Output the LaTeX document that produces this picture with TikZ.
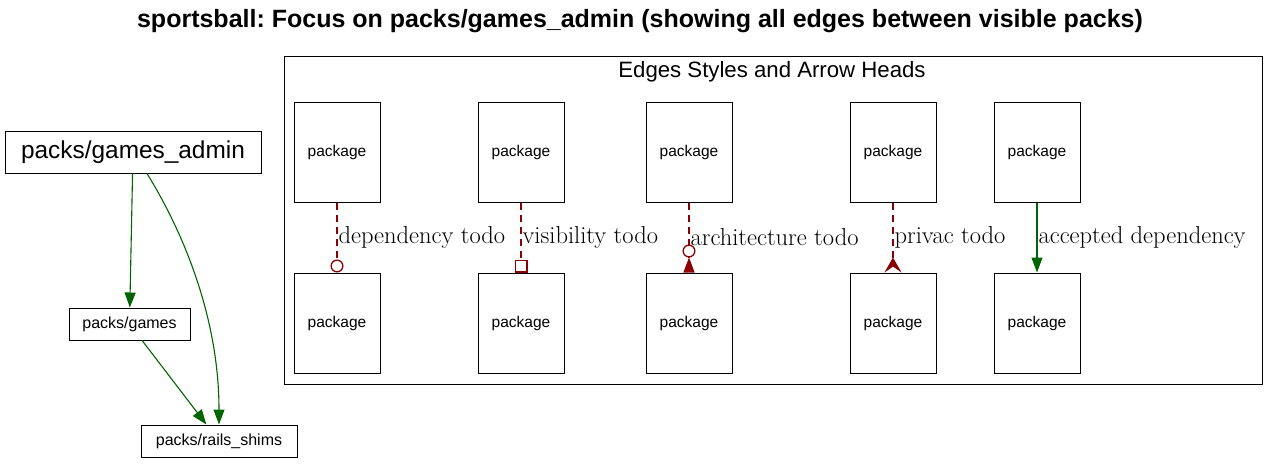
\documentclass[tikz,border=0pt]{standalone}
\usepackage{fontspec}
\setsansfont{Liberation Sans}
\usepackage{tikz}
\usetikzlibrary{calc, arrows.meta}

\definecolor{okgreen}{RGB}{0,100,0}
\definecolor{todored}{RGB}{139,0,0}
\frenchspacing

\begin{document}
\begin{tikzpicture}[x=1pt, y=-1pt,
    pack/.style={draw, line width=1pt, inner sep=0pt, font=\sffamily\fontsize{16}{19}\selectfont},
    legendbox/.style={pack, minimum width=86pt, minimum height=100pt, font=\sffamily\fontsize{15.5}{18}\selectfont},
    ok/.style={color=okgreen, line width=1.1pt, -{Triangle[length=15pt, width=11pt]}},
    todo/.style={color=todored, line width=1.15pt, dash pattern=on 7pt off 5pt},
    elabel/.style={right, inner sep=1pt, text=black, font=\fontsize{24.5}{28}\selectfont}]
  \useasboundingbox (0,0) rectangle (1279,463);

  % titolo
  \node[font=\sffamily\bfseries\fontsize{25}{29}\selectfont] (title) at (640,21)
    {sportsball: Focus on packs/games\_admin (showing all edges between visible packs)};

  % pacchetti
  \node[pack, minimum width=256pt, minimum height=42pt, font=\sffamily\fontsize{24.4}{28}\selectfont] (admin) at (133,152) {packs/games\_admin};
  \node[pack, minimum width=121pt, minimum height=32pt] (games) at (129.5,324) {packs/games};
  \node[pack, minimum width=156pt, minimum height=32pt] (shims) at (219,441) {packs/rails\_shims};

  % dipendenze
  \draw[ok] (admin) -- (games);
  \draw[ok] (games) -- (shims);
  \draw[ok] ([xshift=14pt]admin.south) .. controls (185,235) and (219,320) .. (shims.north);

  % legenda
  \draw[line width=1pt] (284,56) rectangle (1262,384);
  \node[font=\sffamily\fontsize{22.2}{26}\selectfont] (legend) at (772,72) {Edges Styles and Arrow Heads};

  \foreach \n/\x in {dep/337, vis/521, arch/689, priv/893, acc/1037} {
    \node[legendbox] (\n-top) at (\x,152) {package};
    \node[legendbox] (\n-bot) at (\x,323) {package};
  }

  % stili degli archi
  \draw[todo, -{Circle[open, length=13pt, fill=white, line width=1.3pt]}] (dep-top) -- (dep-bot)
    node[elabel, midway] {dependency todo};
  \draw[todo, -{Square[open, length=13pt, fill=white, line width=1.3pt]}] (vis-top) -- (vis-bot)
    node[elabel, midway] {visibility todo};
  \draw[todo, -{Circle[open, length=13pt, fill=white, line width=1.3pt] Triangle[reversed, length=15pt, width=11pt]}] (arch-top) -- (arch-bot)
    node[elabel, midway] {architecture todo};
  \draw[todo, -{Stealth[reversed, length=15pt, width=17pt, inset=6pt]}] (priv-top) -- (priv-bot)
    node[elabel, midway] {privac todo};
  \draw[ok] (acc-top) -- (acc-bot)
    node[elabel, midway] {accepted dependency};
\end{tikzpicture}
\end{document}
